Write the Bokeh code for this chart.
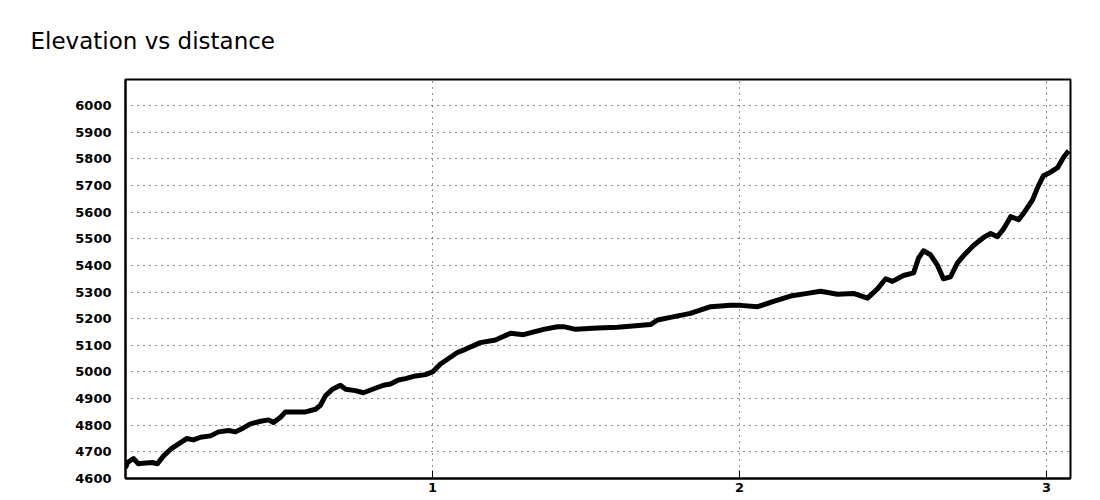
from bokeh.plotting import figure
from bokeh.models import FixedTicker, Range1d
from bokeh.embed import file_html
from bokeh.resources import INLINE

# distance (x) and elevation (y)
distance = [0.000, 0.0065, 0.026, 0.042, 0.065, 0.088, 0.104, 0.124, 0.147, 0.173,
            0.199, 0.221, 0.244, 0.277, 0.303, 0.336, 0.358, 0.384, 0.407, 0.440,
            0.466, 0.482, 0.505, 0.521, 0.554, 0.586, 0.619, 0.635, 0.651, 0.674,
            0.700, 0.717, 0.749, 0.775, 0.805, 0.840, 0.863, 0.889, 0.912, 0.945,
            0.977, 1.000, 1.026, 1.081, 1.107, 1.156, 1.205, 1.254, 1.296, 1.362,
            1.407, 1.427, 1.466, 1.537, 1.603, 1.710, 1.733, 1.775, 1.840, 1.906,
            1.971, 2.003, 2.059, 2.111, 2.166, 2.221, 2.264, 2.319, 2.371, 2.417,
            2.450, 2.476, 2.498, 2.534, 2.567, 2.583, 2.599, 2.622, 2.645, 2.664,
            2.687, 2.710, 2.730, 2.762, 2.795, 2.818, 2.840, 2.860, 2.883, 2.909,
            2.925, 2.954, 2.971, 2.990, 3.013, 3.036, 3.055, 3.072]
elevation = [4640, 4660, 4675, 4655, 4658, 4660, 4655, 4685, 4710, 4730,
             4750, 4745, 4755, 4760, 4775, 4780, 4775, 4790, 4805, 4815,
             4820, 4810, 4830, 4850, 4850, 4850, 4860, 4875, 4910, 4935,
             4950, 4935, 4930, 4922, 4935, 4950, 4955, 4970, 4975, 4985,
             4990, 5000, 5030, 5073, 5085, 5110, 5120, 5145, 5140, 5160,
             5170, 5170, 5160, 5165, 5168, 5178, 5195, 5205, 5220, 5245,
             5250, 5250, 5245, 5265, 5285, 5295, 5303, 5292, 5295, 5277,
             5313, 5350, 5340, 5362, 5372, 5427, 5455, 5440, 5400, 5350,
             5357, 5410, 5437, 5475, 5505, 5520, 5508, 5537, 5583, 5572,
             5595, 5645, 5693, 5737, 5750, 5767, 5805, 5830]

x_ticks = [1, 2, 3]
y_ticks = list(range(4600, 6001, 100))

FONT = "DejaVu Sans"

p = figure(width=1092, height=496, output_backend="svg", toolbar_location=None,
           x_range=Range1d(0, 3.078), y_range=Range1d(4600, 6098),
           title="Elevation vs distance")
p.min_border_left = 125
p.min_border_right = 22
p.min_border_top = 79
p.min_border_bottom = 18

p.title.text_font = FONT
p.title.text_font_size = "23px"
p.title.text_font_style = "normal"
p.title.text_color = "#000000"
p.title.offset = -95
p.title.standoff = 51

p.line(distance, elevation, line_color="#000000", line_width=5, line_join="round")

p.outline_line_color = "#000000"
p.outline_line_width = 2
p.outline_line_alpha = 1

p.xaxis.ticker = FixedTicker(ticks=x_ticks)
p.yaxis.ticker = FixedTicker(ticks=y_ticks)
for ax in (p.xaxis[0], p.yaxis[0]):
    ax.axis_line_color = "#000000"
    ax.axis_line_width = 2
    ax.minor_tick_line_color = None
    ax.major_label_text_font = FONT
    ax.major_label_text_font_size = "13px"
    ax.major_label_text_font_style = "bold"
    ax.major_label_text_color = "#000000"
    ax.major_tick_line_color = "#000000"

p.xaxis.major_tick_in = 8
p.xaxis.major_tick_out = 0
p.xaxis.major_label_standoff = 4
p.yaxis.major_tick_in = 0
p.yaxis.major_tick_out = 0
p.yaxis.major_label_standoff = 14

p.xgrid.ticker = FixedTicker(ticks=x_ticks)
p.ygrid.ticker = FixedTicker(ticks=y_ticks)
for g in (p.xgrid[0], p.ygrid[0]):
    g.grid_line_color = "#222222"
    g.grid_line_dash = "1 5"
    g.grid_line_width = 1

p.background_fill_color = "#ffffff"
p.border_fill_color = "#ffffff"

open("out.html", "w").write(file_html(p, INLINE))
